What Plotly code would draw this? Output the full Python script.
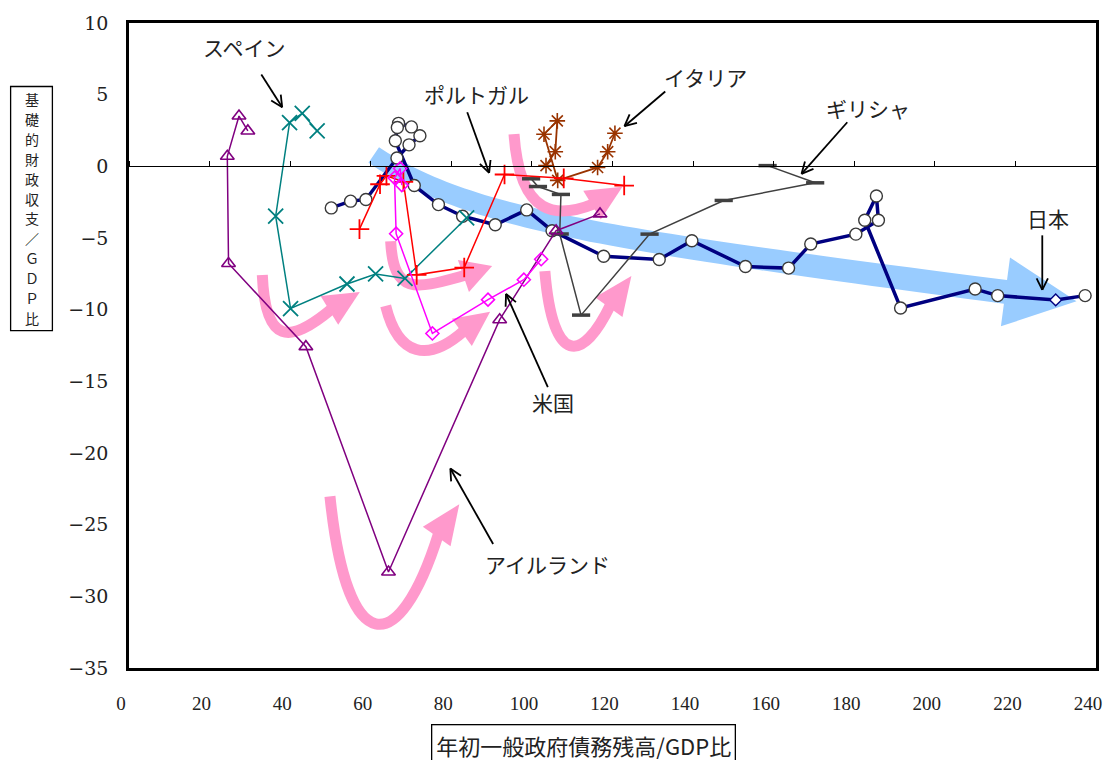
import math
import plotly.graph_objects as go

# ---------------- data ----------------
japan_debt = [50.2, 55.0, 58.8, 66.5, 69.5, 72.2, 70.1, 66.9, 66.6, 66.1, 70.8, 76.8, 82.8, 90.9,
              98.7, 105.0, 117.8, 131.6, 139.7, 153.0, 163.7, 169.2, 180.4, 186.0, 185.5, 182.6,
              191.5, 210.0, 215.6, 230.0, 237.3]
japan_pb = [-2.90, -2.43, -2.31, 0.58, 1.50, 2.13, 2.75, 3.00, 2.71, 1.78, -1.34, -2.67, -3.48, -4.08,
            -3.04, -4.49, -6.27, -6.50, -5.19, -6.99, -7.10, -5.42, -4.73, -3.76, -2.07, -3.76,
            -9.88, -8.56, -9.02, -9.32, -9.02]

ireland_debt = [29.5, 27.3, 24.4, 24.7, 43.9, 64.4, 92.0, 106.0, 116.9]
ireland_pb = [2.47, 3.51, 0.70, -6.78, -12.58, -28.3, -10.7, -4.49, -3.32]

spain_debt = [46.7, 43.0, 39.85, 36.4, 40.1, 54.1, 61.2, 68.5, 83.8]
spain_pb = [2.47, 3.70, 3.05, -3.48, -9.92, -8.21, -7.51, -7.82, -3.59]

portugal_debt = [57.2, 62.3, 63.9, 68.1, 71.4, 83.2, 93.2, 107.9, 122.9]
portugal_pb = [-4.38, -1.25, -0.66, -1.08, -7.57, -7.06, -0.57, -0.84, -1.34]

us_debt = [67.7, 67.3, 65.9, 66.3, 75.3, 89.1, 98.0, 102.3]
us_pb = [-1.31, -0.15, -0.80, -4.70, -11.66, -9.30, -7.91, -6.48]

italy_debt = [103.5, 105.8, 106.3, 103.0, 106.4, 116.3, 118.8, 120.6]
italy_pb = [0.05, 1.02, 3.17, 2.24, -0.98, -0.08, 1.02, 2.31]

greece_debt = [99.8, 101.5, 107.2, 106.9, 112.2, 129.2, 147.6, 170.3, 158.5]
greece_pb = [-0.87, -1.41, -1.96, -4.72, -10.38, -4.73, -2.38, -1.15, 0.05]

x_ticks = list(range(0, 241, 20))
y_ticks = list(range(-35, 11, 5))

country_labels = ["スペイン", "ポルトガル", "イタリア", "ギリシャ", "日本", "米国", "アイルランド"]
x_title = "年初一般政府債務残高/GDP比"
y_title_chars = ["基", "礎", "的", "財", "政", "収", "支", "／", "Ｇ", "Ｄ", "Ｐ", "比"]

# ---------------- geometry helpers (pixel -> data for decorations) ----------------
W, H = 1114, 760
ML, MR, MT, MB = 129, 13, 18, 92
X_RANGE = [0, 240]
Y_RANGE = [-35, 10]
PW, PH = W - ML - MR, H - MT - MB


def dx(px):
    return X_RANGE[0] + (px - ML) / PW * (X_RANGE[1] - X_RANGE[0])


def dy(py):
    return Y_RANGE[1] - (py - MT) / PH * (Y_RANGE[1] - Y_RANGE[0])


def paper_x(px):
    return (px - ML) / PW


def paper_y(py):
    return 1 - (py - MT) / PH


def pt(p):
    return f"{dx(p[0]):.4f},{dy(p[1]):.4f}"


PINK = "#FF99CC"
BLUE = "#99CCFF"
shapes = []


def bez(p0, p1, p2, p3, t):
    a = (1 - t) ** 3
    b = 3 * (1 - t) ** 2 * t
    c = 3 * (1 - t) * t ** 2
    d = t ** 3
    return (a * p0[0] + b * p1[0] + c * p2[0] + d * p3[0],
            a * p0[1] + b * p1[1] + c * p2[1] + d * p3[1])


def pink_arrow(p0, p1, p2, p3, tip, hw=17, lw=11):
    path = f"M{pt(p0)} C{pt(p1)} {pt(p2)} {pt(p3)}"
    shapes.append(dict(type="path", path=path, xref="x", yref="y", layer="below",
                       fillcolor="rgba(0,0,0,0)", line=dict(color=PINK, width=lw)))
    ux, uy = tip[0] - p3[0], tip[1] - p3[1]
    L = math.hypot(ux, uy)
    nx, ny = -uy / L, ux / L
    back = (p3[0] - ux / L * 3, p3[1] - uy / L * 3)
    b1 = (back[0] + nx * hw, back[1] + ny * hw)
    b2 = (back[0] - nx * hw, back[1] - ny * hw)
    shapes.append(dict(type="path", path=f"M{pt(b1)} L{pt(tip)} L{pt(b2)} Z", xref="x", yref="y",
                       layer="below", fillcolor=PINK, line=dict(width=0)))


def blue_band():
    P0, P1, P2, P3 = (375, 151), (470, 215), (600, 235), (1010, 289)
    n = 60
    top, bot = [], []
    for i in range(n + 1):
        t = i / n
        x, y = bez(P0, P1, P2, P3, t)
        e = 1e-3
        x2, y2 = bez(P0, P1, P2, P3, min(1, t + e))
        x1, y1 = bez(P0, P1, P2, P3, max(0, t - e))
        tx, ty = x2 - x1, y2 - y1
        L = math.hypot(tx, ty)
        nx, ny = -ty / L, tx / L
        hw = 9.5 + 2.5 * t
        top.append((x + nx * hw, y + ny * hw))
        bot.append((x - nx * hw, y - ny * hw))
    ux, uy = P3[0] - P2[0], P3[1] - P2[1]
    L = math.hypot(ux, uy)
    ux, uy = ux / L, uy / L
    nx, ny = -uy, ux
    tip = (P3[0] + ux * 72, P3[1] + uy * 72)
    h1 = (P3[0] + nx * 35, P3[1] + ny * 35)
    h2 = (P3[0] - nx * 35, P3[1] - ny * 35)
    poly = top + [h1, tip, h2] + bot[::-1]
    path = "M" + " L".join(pt(p) for p in poly) + " Z"
    shapes.append(dict(type="path", path=path, xref="x", yref="y", layer="below",
                       fillcolor=BLUE, line=dict(width=0)))


def black_arrow(tail, head, hl=13, ang=26):
    shapes.append(dict(type="line", xref="x", yref="y", x0=dx(tail[0]), y0=dy(tail[1]),
                       x1=dx(head[0]), y1=dy(head[1]), line=dict(color="black", width=1.8)))
    ux, uy = tail[0] - head[0], tail[1] - head[1]
    L = math.hypot(ux, uy)
    ux, uy = ux / L, uy / L
    for s in (1, -1):
        a = math.radians(ang) * s
        rx = ux * math.cos(a) - uy * math.sin(a)
        ry = ux * math.sin(a) + uy * math.cos(a)
        shapes.append(dict(type="line", xref="x", yref="y", x0=dx(head[0]), y0=dy(head[1]),
                           x1=dx(head[0] + rx * hl), y1=dy(head[1] + ry * hl),
                           line=dict(color="black", width=1.8)))


blue_band()
# pink curved arrows (Spain, Portugal, US, Italy, Greece, Ireland)
pink_arrow((263, 272), (266, 342), (290, 342), (333, 306), (361, 289))
pink_arrow((392, 238), (395, 295), (420, 285), (468, 272), (494, 263))
pink_arrow((387, 303), (400, 355), (430, 360), (466, 328), (492, 309))
pink_arrow((516, 130), (522, 215), (560, 215), (597, 200), (625, 183))
pink_arrow((547, 268), (555, 365), (585, 360), (613, 302), (634, 273))
pink_arrow((331, 495), (348, 660), (400, 660), (440, 533), (461, 503))

# black label arrows
black_arrow((262, 70), (283, 103))
black_arrow((469, 108), (491, 169))
black_arrow((668, 87), (627, 122))
black_arrow((851, 118), (805, 170))
black_arrow((1047, 232), (1047, 287))
black_arrow((550, 385), (508, 291))
black_arrow((495, 543), (452, 467))

# box around the vertical y-axis title
YT_TOP, YT_BOT, YT_L, YT_R = 82, 328, 10, 52
shapes.append(dict(type="rect", xref="paper", yref="paper",
                   x0=paper_x(YT_L), x1=paper_x(YT_R), y0=paper_y(YT_BOT), y1=paper_y(YT_TOP),
                   line=dict(color="black", width=1.3), fillcolor="white", layer="above"))

# ---------------- traces ----------------
fig = go.Figure()

n_j = len(japan_debt)
japan_sym = ["circle"] * (n_j - 2) + ["diamond", "circle"]
japan_size = [12] * (n_j - 2) + [9, 12]
japan_lc = ["#3a3a3a"] * (n_j - 2) + ["#000080", "#3a3a3a"]

fig.add_trace(go.Scatter(x=japan_debt, y=japan_pb, mode="lines+markers", name="日本",
                         line=dict(color="#000080", width=3.5),
                         marker=dict(symbol=japan_sym, size=japan_size, color="#FFFFFF", opacity=1,
                                     line=dict(color=japan_lc, width=1.4))))
fig.add_trace(go.Scatter(x=greece_debt, y=greece_pb, mode="lines+markers", name="ギリシャ",
                         line=dict(color="#404040", width=1.5),
                         marker=dict(symbol="line-ew-open", size=13,
                                     line=dict(color="#404040", width=3.5))))
fig.add_trace(go.Scatter(x=italy_debt, y=italy_pb, mode="lines+markers", name="イタリア",
                         line=dict(color="#993300", width=1.8),
                         marker=dict(symbol="asterisk-open", size=13,
                                     line=dict(color="#993300", width=1.6))))
fig.add_trace(go.Scatter(x=ireland_debt, y=ireland_pb, mode="lines+markers", name="アイルランド",
                         line=dict(color="#800080", width=1.5),
                         marker=dict(symbol="triangle-up-open", size=12,
                                     line=dict(color="#800080", width=1.6))))
fig.add_trace(go.Scatter(x=spain_debt, y=spain_pb, mode="lines+markers", name="スペイン",
                         line=dict(color="#008080", width=1.5),
                         marker=dict(symbol="x-thin-open", size=15,
                                     line=dict(color="#008080", width=1.8))))
fig.add_trace(go.Scatter(x=portugal_debt, y=portugal_pb, mode="lines+markers", name="ポルトガル",
                         line=dict(color="#FF0000", width=1.5),
                         marker=dict(symbol="cross-thin-open", size=14,
                                     line=dict(color="#FF0000", width=1.8))))
fig.add_trace(go.Scatter(x=us_debt, y=us_pb, mode="lines+markers", name="米国",
                         line=dict(color="#FF00FF", width=1.5),
                         marker=dict(symbol="diamond-open", size=10,
                                     line=dict(color="#FF00FF", width=1.6))))
# carrier trace for the zero-line axis with upward ticks
fig.add_trace(go.Scatter(x=[None], y=[None], xaxis="x2", yaxis="y", showlegend=False,
                         hoverinfo="skip"))

# ---------------- annotations ----------------
annotations = []
label_pos = [(245, 42), (478, 90), (708, 72), (872, 104), (1053, 215), (555, 400), (550, 563)]
for txt, (px, py) in zip(country_labels, label_pos):
    annotations.append(dict(x=dx(px), y=dy(py), xref="x", yref="y", text=txt, showarrow=False,
                            font=dict(family="Noto Sans CJK JP", size=21, color="#222222"),
                            xanchor="center", yanchor="middle"))

# vertical y-axis title: one character per row
n_c = len(y_title_chars)
row_h = (YT_BOT - YT_TOP - 6) / n_c
for i, ch in enumerate(y_title_chars):
    cy = YT_TOP + 3 + row_h * (i + 0.5)
    annotations.append(dict(x=paper_x((YT_L + YT_R) / 2), y=paper_y(cy), xref="paper", yref="paper",
                            text=ch, showarrow=False,
                            font=dict(family="Noto Sans CJK JP", size=14, color="#222222"),
                            xanchor="center", yanchor="middle"))

annotations.append(dict(x=paper_x(586), y=paper_y(746), xref="paper", yref="paper",
                        text=x_title, showarrow=False,
                        font=dict(family="Noto Sans CJK JP", size=22, color="#222222"),
                        xanchor="center", yanchor="middle",
                        bordercolor="black", borderwidth=1.3, borderpad=4, bgcolor="white"))

fig.update_layout(
    width=W, height=H,
    margin=dict(l=ML, r=MR, t=MT, b=MB, pad=0),
    paper_bgcolor="white", plot_bgcolor="white",
    showlegend=False,
    hovermode=False,
    shapes=shapes,
    annotations=annotations,
    xaxis=dict(range=X_RANGE, tickvals=x_ticks, showgrid=False, zeroline=False,
               showline=True, mirror=True, linecolor="black", linewidth=2.5, ticks="",
               ticklabelstandoff=16, ticklabelshift=-8,
               tickfont=dict(family="Liberation Sans Narrow, Liberation Serif", size=19, color="#222222")),
    yaxis=dict(range=Y_RANGE, tickvals=y_ticks, showgrid=False, zeroline=False,
               showline=True, mirror=True, linecolor="black", linewidth=2.5, ticks="",
               ticklabelstandoff=14,
               tickfont=dict(family="DejaVu Serif", size=19, color="#222222")),
    xaxis2=dict(overlaying="x", anchor="free",
                position=(0 - Y_RANGE[0]) / (Y_RANGE[1] - Y_RANGE[0]),
                side="top", range=X_RANGE, tickvals=x_ticks, ticks="outside", ticklen=5,
                tickwidth=1, tickcolor="black", showticklabels=False, showline=True,
                linecolor="black", linewidth=1, showgrid=False, zeroline=False),
)

fig.write_html("out.html", config={"displayModeBar": False},
               post_script="document.body.style.margin='0';")
